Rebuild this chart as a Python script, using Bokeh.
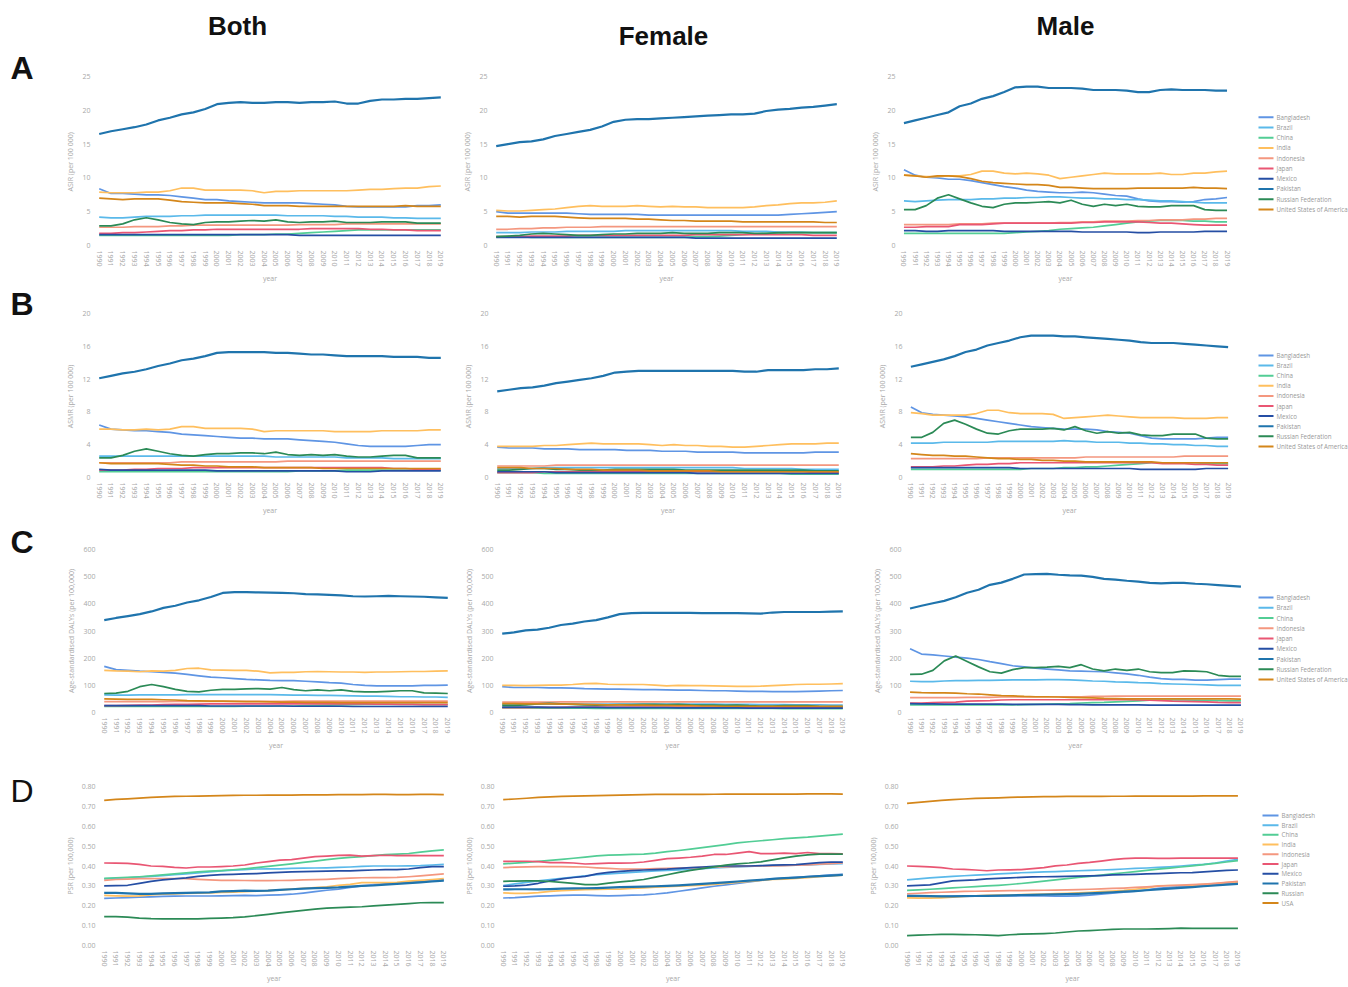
from bokeh.plotting import figure
from bokeh.layouts import column, row
from bokeh.models import Range1d, FixedTicker, NumeralTickFormatter, Label, Div
from bokeh.core.properties import value
from bokeh.embed import file_html
from bokeh.resources import INLINE

YEARS = list(range(1990, 2020))
COUNTRIES = ["Bangladesh", "Brazil", "China", "India", "Indonesia", "Japan",
             "Mexico", "Pakistan", "Russian Federation", "United States of America"]
COLORS = {"Bangladesh": "#5f95e4", "Brazil": "#5ab9ea", "China": "#52cd95", "India": "#ffbf5e",
          "Indonesia": "#f4977f", "Japan": "#e95673", "Mexico": "#254ea4", "Pakistan": "#1f74ad",
          "Russian Federation": "#2b8a56", "United States of America": "#d4861a"}
LEGEND_ABC = ["Bangladesh", "Brazil", "China", "India", "Indonesia", "Japan", "Mexico",
              "Pakistan", "Russian Federation", "United States of America"]
LEGEND_C = ["Bangladesh", "Brazil", "China", "Indonesia", "Japan", "Mexico",
            "Pakistan", "Russian Federation", "United States of America"]
LEGEND_D = ["Bangladesh", "Brazil", "China", "India", "Indonesia", "Japan", "Mexico",
            "Pakistan", "Russian", "USA"]

# ---------------- A: ASIR ----------------
A_BOTH = {
    "Bangladesh": [8.4,7.7,7.7,7.6,7.5,7.5,7.4,7.2,7.0,6.8,6.8,6.6,6.5,6.4,6.3,6.3,6.3,6.3,6.2,6.1,6.0,5.8,5.7,5.7,5.7,5.7,5.7,5.9,5.9,6.0],
    "Brazil": [4.2,4.1,4.1,4.2,4.3,4.3,4.3,4.4,4.4,4.5,4.5,4.5,4.5,4.5,4.5,4.5,4.4,4.4,4.4,4.4,4.3,4.3,4.2,4.2,4.2,4.1,4.1,4.0,4.0,4.0],
    "China": [1.5,1.5,1.5,1.5,1.5,1.5,1.5,1.5,1.5,1.5,1.5,1.5,1.6,1.6,1.6,1.7,1.7,1.8,1.9,2.0,2.1,2.2,2.3,2.3,2.3,2.3,2.3,2.3,2.3,2.3],
    "India": [7.9,7.8,7.8,7.8,7.9,7.9,8.1,8.5,8.5,8.2,8.2,8.2,8.2,8.1,7.8,8.0,8.0,8.1,8.1,8.1,8.1,8.1,8.2,8.3,8.3,8.4,8.5,8.5,8.7,8.8],
    "Indonesia": [2.7,2.7,2.7,2.8,2.8,2.8,2.9,2.9,3.0,3.0,3.0,3.0,3.0,3.0,3.0,3.0,3.0,3.1,3.1,3.1,3.1,3.2,3.2,3.2,3.2,3.2,3.2,3.2,3.2,3.2],
    "Japan": [1.8,1.8,1.9,1.9,2.0,2.1,2.2,2.2,2.3,2.3,2.4,2.4,2.4,2.4,2.4,2.4,2.4,2.4,2.5,2.5,2.5,2.5,2.5,2.4,2.4,2.3,2.3,2.2,2.2,2.2],
    "Mexico": [1.6,1.6,1.6,1.6,1.6,1.6,1.6,1.6,1.6,1.6,1.6,1.6,1.6,1.6,1.6,1.6,1.6,1.5,1.5,1.5,1.5,1.5,1.5,1.5,1.5,1.5,1.5,1.5,1.5,1.5],
    "Pakistan": [16.5,16.9,17.2,17.5,17.9,18.5,18.9,19.4,19.7,20.2,20.9,21.1,21.2,21.1,21.1,21.2,21.2,21.1,21.2,21.2,21.3,21.0,21.0,21.4,21.6,21.6,21.7,21.7,21.8,21.9],
    "Russian Federation": [2.9,2.9,3.2,3.8,4.1,3.8,3.4,3.2,3.1,3.4,3.5,3.5,3.6,3.7,3.6,3.8,3.5,3.4,3.5,3.5,3.6,3.4,3.4,3.4,3.5,3.5,3.5,3.3,3.3,3.3],
    "United States of America": [7.0,6.9,6.8,6.9,6.9,6.9,6.7,6.5,6.4,6.3,6.3,6.3,6.2,6.1,5.9,5.9,5.9,5.8,5.8,5.8,5.8,5.8,5.8,5.8,5.8,5.8,5.9,5.8,5.8,5.8],
}
A_FEMALE = {
    "Bangladesh": [5.0,4.8,4.8,4.8,4.8,4.8,4.8,4.7,4.6,4.6,4.6,4.6,4.6,4.5,4.5,4.5,4.5,4.5,4.5,4.5,4.5,4.5,4.5,4.5,4.5,4.6,4.7,4.8,4.9,5.0],
    "Brazil": [1.9,1.9,1.9,2.0,2.0,2.0,2.1,2.1,2.1,2.1,2.1,2.2,2.2,2.2,2.2,2.2,2.2,2.2,2.2,2.2,2.2,2.1,2.1,2.1,2.0,2.0,2.0,1.9,1.9,1.9],
    "China": [1.3,1.3,1.3,1.2,1.2,1.2,1.2,1.2,1.2,1.2,1.2,1.2,1.2,1.2,1.2,1.2,1.2,1.3,1.3,1.4,1.5,1.6,1.7,1.8,1.8,1.9,1.9,1.9,1.9,1.9],
    "India": [5.2,5.1,5.1,5.2,5.3,5.4,5.6,5.8,5.9,5.8,5.8,5.8,5.9,5.8,5.7,5.8,5.7,5.7,5.6,5.6,5.6,5.6,5.7,5.9,6.0,6.2,6.3,6.3,6.4,6.6],
    "Indonesia": [2.4,2.4,2.5,2.5,2.6,2.6,2.7,2.7,2.7,2.8,2.8,2.8,2.8,2.8,2.8,2.8,2.8,2.8,2.8,2.8,2.8,2.8,2.8,2.8,2.8,2.8,2.8,2.8,2.8,2.8],
    "Japan": [1.3,1.3,1.3,1.4,1.4,1.4,1.4,1.5,1.5,1.5,1.5,1.5,1.5,1.5,1.5,1.5,1.5,1.6,1.6,1.6,1.6,1.6,1.6,1.6,1.6,1.6,1.6,1.5,1.5,1.5],
    "Mexico": [1.2,1.2,1.2,1.2,1.2,1.2,1.2,1.2,1.2,1.2,1.2,1.2,1.2,1.2,1.2,1.2,1.2,1.1,1.1,1.1,1.1,1.1,1.1,1.1,1.1,1.1,1.1,1.1,1.1,1.1],
    "Pakistan": [14.7,15.0,15.3,15.4,15.7,16.2,16.5,16.8,17.1,17.6,18.3,18.6,18.7,18.7,18.8,18.9,19.0,19.1,19.2,19.3,19.4,19.4,19.5,19.9,20.1,20.2,20.4,20.5,20.7,20.9],
    "Russian Federation": [1.3,1.4,1.5,1.7,1.8,1.7,1.6,1.5,1.5,1.6,1.7,1.7,1.8,1.8,1.8,1.9,1.8,1.8,1.8,1.9,1.9,1.9,1.8,1.8,1.9,1.9,1.9,1.9,1.9,1.9],
    "United States of America": [4.3,4.3,4.2,4.3,4.3,4.3,4.2,4.1,4.0,4.0,4.0,4.0,3.9,3.9,3.8,3.7,3.7,3.6,3.6,3.6,3.6,3.5,3.5,3.5,3.5,3.5,3.5,3.5,3.4,3.4],
}
A_MALE = {
    "Bangladesh": [11.2,10.4,10.1,10.0,9.8,9.8,9.6,9.3,9.0,8.7,8.5,8.2,8.0,7.9,7.8,7.8,7.9,7.8,7.6,7.4,7.3,6.9,6.6,6.5,6.5,6.4,6.5,6.8,6.9,7.1],
    "Brazil": [6.6,6.5,6.6,6.7,6.8,6.8,6.8,6.9,6.9,7.0,7.0,7.1,7.1,7.2,7.2,7.1,7.0,7.0,6.9,6.9,6.8,6.8,6.7,6.6,6.6,6.5,6.4,6.3,6.3,6.3],
    "China": [1.8,1.8,1.8,1.8,1.8,1.8,1.8,1.8,1.8,1.8,1.9,2.0,2.1,2.2,2.4,2.5,2.6,2.7,2.9,3.1,3.3,3.5,3.6,3.7,3.7,3.7,3.6,3.6,3.5,3.5],
    "India": [10.4,10.3,10.2,10.2,10.3,10.3,10.5,11.0,11.0,10.7,10.6,10.7,10.6,10.4,9.9,10.1,10.3,10.5,10.7,10.6,10.6,10.6,10.6,10.7,10.5,10.5,10.7,10.7,10.9,11.0],
    "Indonesia": [3.1,3.1,3.1,3.1,3.1,3.2,3.2,3.2,3.3,3.3,3.3,3.3,3.3,3.3,3.4,3.4,3.5,3.5,3.6,3.6,3.6,3.7,3.7,3.8,3.8,3.8,3.9,3.9,4.0,4.0],
    "Japan": [2.7,2.7,2.8,2.8,2.8,3.1,3.1,3.1,3.2,3.3,3.3,3.3,3.3,3.3,3.3,3.3,3.4,3.4,3.5,3.5,3.5,3.5,3.4,3.3,3.3,3.2,3.1,3.0,3.0,3.0],
    "Mexico": [2.2,2.2,2.1,2.1,2.2,2.2,2.2,2.2,2.2,2.1,2.1,2.1,2.1,2.1,2.1,2.1,2.0,2.0,2.0,2.0,2.0,1.9,1.9,2.0,2.0,2.0,2.0,2.1,2.1,2.1],
    "Pakistan": [18.1,18.5,18.9,19.3,19.7,20.6,21.0,21.7,22.1,22.7,23.4,23.5,23.5,23.3,23.3,23.3,23.2,23.0,23.0,23.0,22.9,22.7,22.7,23.0,23.1,23.0,23.0,23.0,22.9,22.9],
    "Russian Federation": [5.3,5.3,5.9,7.0,7.5,6.9,6.3,5.8,5.6,6.1,6.3,6.3,6.4,6.5,6.3,6.7,6.1,5.8,6.1,5.9,6.1,5.8,5.7,5.7,5.9,5.9,5.9,5.3,5.2,5.2],
    "United States of America": [10.4,10.3,10.1,10.3,10.3,10.2,9.9,9.5,9.3,9.2,9.1,9.0,9.0,8.9,8.6,8.6,8.5,8.4,8.4,8.4,8.4,8.5,8.5,8.5,8.5,8.5,8.6,8.5,8.5,8.4],
}

# ---------------- B: ASMR ----------------
B_BOTH = {
    "Bangladesh": [6.4,5.9,5.8,5.7,5.7,5.6,5.5,5.3,5.2,5.1,5.0,4.9,4.8,4.8,4.7,4.7,4.7,4.6,4.5,4.4,4.3,4.1,3.9,3.8,3.8,3.8,3.8,3.9,4.0,4.0],
    "Brazil": [2.6,2.6,2.6,2.6,2.6,2.6,2.6,2.6,2.6,2.6,2.6,2.6,2.6,2.6,2.6,2.5,2.5,2.5,2.5,2.5,2.5,2.4,2.4,2.4,2.4,2.3,2.3,2.3,2.3,2.3],
    "China": [0.7,0.7,0.7,0.7,0.7,0.7,0.7,0.7,0.7,0.7,0.7,0.7,0.7,0.7,0.7,0.7,0.7,0.8,0.8,0.8,0.8,0.9,0.9,0.9,0.9,0.9,0.9,0.9,0.9,0.9],
    "India": [5.9,5.9,5.8,5.8,5.9,5.8,5.9,6.2,6.2,6.0,6.0,6.0,6.0,5.9,5.6,5.7,5.7,5.7,5.7,5.7,5.6,5.6,5.6,5.6,5.7,5.7,5.7,5.7,5.8,5.8],
    "Indonesia": [1.8,1.8,1.8,1.8,1.8,1.8,1.8,1.9,1.9,1.9,1.9,1.9,1.9,1.9,1.9,1.9,2.0,2.0,2.0,2.0,2.0,2.0,2.0,2.0,2.0,2.0,2.0,2.0,2.0,2.0],
    "Japan": [0.9,0.9,0.9,1.0,1.0,1.1,1.1,1.1,1.2,1.2,1.2,1.2,1.2,1.2,1.2,1.2,1.2,1.2,1.2,1.2,1.2,1.2,1.2,1.2,1.2,1.1,1.1,1.0,1.0,1.0],
    "Mexico": [1.0,0.9,0.9,0.9,0.9,0.9,0.9,0.9,0.9,0.9,0.8,0.8,0.8,0.8,0.8,0.8,0.8,0.8,0.8,0.8,0.8,0.7,0.7,0.7,0.8,0.8,0.8,0.8,0.8,0.8],
    "Pakistan": [12.1,12.4,12.7,12.9,13.2,13.6,13.9,14.3,14.5,14.8,15.2,15.3,15.3,15.3,15.3,15.2,15.2,15.1,15.0,15.0,14.9,14.8,14.8,14.8,14.8,14.7,14.7,14.7,14.6,14.6],
    "Russian Federation": [2.4,2.4,2.7,3.2,3.5,3.2,2.9,2.7,2.6,2.8,2.9,2.9,3.0,3.0,2.9,3.1,2.8,2.7,2.8,2.7,2.8,2.6,2.5,2.5,2.6,2.7,2.7,2.4,2.4,2.4],
    "United States of America": [1.8,1.7,1.7,1.7,1.7,1.7,1.6,1.5,1.5,1.4,1.4,1.3,1.3,1.3,1.2,1.2,1.2,1.2,1.2,1.1,1.1,1.1,1.1,1.1,1.1,1.1,1.1,1.1,1.1,1.1],
}
B_FEMALE = {
    "Bangladesh": [3.7,3.6,3.6,3.6,3.5,3.5,3.5,3.4,3.4,3.4,3.4,3.3,3.3,3.3,3.2,3.2,3.2,3.1,3.1,3.1,3.1,3.0,3.0,3.0,3.0,3.0,3.0,3.1,3.1,3.1],
    "Brazil": [1.1,1.1,1.1,1.1,1.2,1.2,1.2,1.2,1.2,1.2,1.2,1.2,1.2,1.2,1.2,1.2,1.2,1.2,1.2,1.2,1.2,1.1,1.1,1.1,1.1,1.1,1.0,1.0,1.0,1.0],
    "China": [0.6,0.6,0.6,0.6,0.5,0.5,0.5,0.5,0.5,0.5,0.5,0.5,0.5,0.5,0.5,0.5,0.5,0.5,0.5,0.5,0.5,0.5,0.5,0.5,0.5,0.4,0.4,0.4,0.4,0.4],
    "India": [3.8,3.8,3.8,3.8,3.9,3.9,4.0,4.1,4.2,4.1,4.1,4.1,4.1,4.0,3.9,4.0,3.9,3.9,3.8,3.8,3.7,3.7,3.8,3.9,4.0,4.1,4.1,4.1,4.2,4.2],
    "Indonesia": [1.4,1.4,1.4,1.4,1.4,1.5,1.5,1.5,1.5,1.5,1.5,1.5,1.5,1.5,1.5,1.5,1.5,1.5,1.5,1.5,1.5,1.5,1.5,1.5,1.5,1.5,1.5,1.5,1.5,1.5],
    "Japan": [0.6,0.6,0.6,0.6,0.7,0.7,0.7,0.7,0.7,0.7,0.7,0.7,0.7,0.7,0.7,0.7,0.7,0.7,0.7,0.7,0.7,0.7,0.7,0.7,0.7,0.7,0.7,0.6,0.6,0.6],
    "Mexico": [0.7,0.7,0.7,0.7,0.7,0.6,0.6,0.6,0.6,0.6,0.6,0.6,0.6,0.6,0.6,0.6,0.6,0.5,0.5,0.5,0.5,0.5,0.5,0.5,0.5,0.5,0.5,0.5,0.5,0.5],
    "Pakistan": [10.5,10.7,10.9,11.0,11.2,11.5,11.7,11.9,12.1,12.4,12.8,12.9,13.0,13.0,13.0,13.0,13.0,13.0,13.0,13.0,13.0,12.9,12.9,13.1,13.1,13.1,13.1,13.2,13.2,13.3],
    "Russian Federation": [0.9,0.9,1.0,1.1,1.1,1.0,1.0,0.9,0.9,0.9,1.0,1.0,1.0,1.0,1.0,1.0,0.9,0.9,0.9,0.9,0.9,0.9,0.9,0.9,0.9,0.9,0.9,0.8,0.8,0.8],
    "United States of America": [1.2,1.2,1.2,1.1,1.1,1.1,1.0,1.0,1.0,0.9,0.9,0.9,0.9,0.8,0.8,0.8,0.8,0.8,0.8,0.7,0.7,0.7,0.7,0.7,0.7,0.7,0.7,0.7,0.7,0.7],
}
B_MALE = {
    "Bangladesh": [8.6,7.9,7.7,7.6,7.5,7.4,7.2,7.0,6.8,6.6,6.4,6.2,6.1,6.0,5.9,5.9,5.9,5.8,5.6,5.5,5.4,5.1,4.8,4.7,4.7,4.7,4.7,4.8,4.9,4.9],
    "Brazil": [4.2,4.2,4.2,4.3,4.3,4.3,4.3,4.3,4.4,4.4,4.4,4.4,4.4,4.4,4.5,4.4,4.4,4.3,4.3,4.3,4.2,4.2,4.1,4.1,4.0,4.0,3.9,3.9,3.8,3.8],
    "China": [1.0,1.0,1.0,1.0,1.0,1.0,1.0,1.0,1.0,1.0,1.0,1.1,1.1,1.1,1.2,1.2,1.3,1.3,1.4,1.5,1.6,1.7,1.8,1.8,1.8,1.8,1.8,1.7,1.7,1.7],
    "India": [7.9,7.8,7.6,7.6,7.6,7.6,7.8,8.2,8.2,7.9,7.8,7.8,7.8,7.7,7.2,7.3,7.4,7.5,7.6,7.5,7.4,7.3,7.3,7.3,7.3,7.2,7.2,7.2,7.3,7.3],
    "Indonesia": [2.3,2.3,2.3,2.3,2.3,2.3,2.3,2.4,2.4,2.4,2.4,2.4,2.4,2.4,2.4,2.4,2.5,2.5,2.5,2.5,2.5,2.5,2.5,2.5,2.5,2.6,2.6,2.6,2.6,2.6],
    "Japan": [1.3,1.3,1.3,1.4,1.4,1.5,1.6,1.6,1.7,1.7,1.8,1.8,1.8,1.8,1.8,1.8,1.8,1.8,1.8,1.8,1.8,1.8,1.8,1.7,1.7,1.7,1.6,1.6,1.5,1.5],
    "Mexico": [1.2,1.2,1.2,1.2,1.2,1.2,1.2,1.2,1.2,1.2,1.1,1.1,1.1,1.1,1.1,1.1,1.1,1.1,1.1,1.1,1.1,1.0,1.0,1.0,1.0,1.0,1.0,1.1,1.1,1.1],
    "Pakistan": [13.5,13.8,14.1,14.4,14.8,15.3,15.6,16.1,16.4,16.7,17.1,17.3,17.3,17.3,17.2,17.2,17.1,17.0,16.9,16.8,16.7,16.5,16.4,16.4,16.4,16.3,16.2,16.1,16.0,15.9],
    "Russian Federation": [4.9,4.9,5.5,6.6,7.0,6.5,5.9,5.4,5.3,5.7,5.9,5.9,5.9,6.0,5.8,6.2,5.7,5.4,5.6,5.4,5.5,5.2,5.1,5.1,5.3,5.3,5.3,4.8,4.7,4.7],
    "United States of America": [2.9,2.8,2.7,2.7,2.6,2.6,2.5,2.4,2.3,2.3,2.2,2.2,2.1,2.1,2.0,2.0,1.9,1.9,1.9,1.9,1.9,1.9,1.9,1.8,1.8,1.8,1.8,1.8,1.8,1.8],
}

# ---------------- C: DALYs ----------------
C_BOTH = {
    "Bangladesh": [170,158,155,152,150,148,145,140,135,130,128,125,122,120,118,117,117,115,113,110,108,103,100,98,98,98,98,100,100,101],
    "Brazil": [65,64,64,65,65,65,65,66,66,66,66,66,66,66,66,65,64,64,63,63,62,61,60,60,59,58,58,57,57,56],
    "China": [22,22,22,22,22,22,22,22,22,22,22,22,23,23,23,24,24,25,26,27,28,29,30,30,30,30,30,29,29,29],
    "India": [155,153,152,150,153,152,155,162,163,157,156,155,155,152,146,148,148,150,151,150,149,149,148,149,149,150,151,151,152,153],
    "Indonesia": [40,40,40,40,40,40,41,41,41,41,41,41,41,41,41,41,42,42,42,42,42,42,42,42,42,42,42,42,42,42],
    "Japan": [25,25,26,27,27,29,30,30,31,32,32,32,32,32,32,32,32,32,32,32,32,32,32,31,31,30,30,29,29,29],
    "Mexico": [25,25,25,25,25,25,25,25,25,24,24,24,24,24,24,24,23,23,23,23,23,22,22,22,22,22,22,22,22,22],
    "Pakistan": [340,348,355,362,372,385,393,405,413,425,440,443,443,442,441,440,439,436,435,433,431,428,427,428,429,428,427,426,424,422],
    "Russian Federation": [70,71,78,95,103,95,85,78,76,82,85,85,87,88,86,92,84,80,83,80,83,78,76,76,78,80,80,72,71,70],
    "United States of America": [50,49,48,48,48,47,46,44,43,42,42,41,40,40,39,38,38,37,37,37,36,36,36,36,36,36,36,36,36,36],
}
C_FEMALE = {
    "Bangladesh": [95,92,92,92,91,91,90,88,87,86,86,85,84,84,83,82,82,81,80,80,79,78,78,77,77,77,78,79,80,81],
    "Brazil": [30,30,30,31,31,31,31,31,31,31,31,31,31,31,31,31,31,31,31,30,30,30,29,29,29,28,28,28,27,27],
    "China": [17,17,17,16,16,16,16,16,15,15,15,15,15,15,15,15,15,15,15,15,15,15,15,15,14,14,14,14,14,14],
    "India": [100,100,99,100,101,101,103,106,107,104,103,103,103,101,98,100,99,99,98,97,96,96,97,99,101,103,104,104,105,106],
    "Indonesia": [38,38,38,38,38,39,39,39,39,39,39,39,39,39,39,39,39,39,39,39,39,39,39,39,39,39,39,39,39,39],
    "Japan": [18,18,18,19,19,19,20,20,20,20,20,20,20,20,20,20,20,20,20,20,20,20,20,20,19,19,19,18,18,18],
    "Mexico": [20,20,20,20,19,19,19,19,19,18,18,18,18,18,18,17,17,17,17,17,17,16,16,16,16,16,16,16,16,16],
    "Pakistan": [290,295,302,305,312,322,327,335,340,350,362,366,367,367,367,367,367,366,366,366,366,365,364,368,370,370,370,370,371,372],
    "Russian Federation": [26,26,28,32,34,32,30,28,27,28,29,29,30,30,29,30,28,27,27,26,27,25,24,24,25,25,25,23,22,22],
    "United States of America": [33,33,32,32,32,31,31,30,29,28,28,27,27,26,26,25,25,24,24,23,23,23,23,23,23,23,23,23,23,23],
}
C_MALE = {
    "Bangladesh": [235,215,212,208,204,200,195,187,180,172,168,163,160,157,153,152,151,150,146,142,137,130,125,122,122,119,119,121,123,123],
    "Brazil": [115,114,114,116,117,117,118,118,119,120,120,120,121,121,120,118,116,115,113,112,110,109,106,105,104,103,102,100,100,100],
    "China": [28,28,28,28,28,28,28,28,28,28,29,30,31,32,33,35,36,37,39,41,43,45,46,46,46,45,45,44,43,43],
    "Indonesia": [55,55,55,55,55,56,56,56,57,57,57,57,57,58,58,58,59,59,60,60,60,60,60,60,60,60,60,60,60,60],
    "Japan": [35,35,36,37,38,42,43,44,46,47,47,47,47,47,47,47,47,47,47,47,46,45,44,42,41,40,39,37,36,36],
    "Mexico": [33,32,32,31,31,31,31,31,31,30,30,30,30,30,29,29,28,28,28,28,28,27,27,27,27,27,27,27,27,27],
    "Pakistan": [383,393,402,411,424,441,452,470,478,492,508,509,510,507,505,504,499,492,489,485,482,477,475,477,477,474,472,469,466,463],
    "Russian Federation": [140,141,155,190,208,188,168,150,145,158,165,165,167,170,165,176,160,153,160,155,160,150,147,147,153,152,150,137,133,133],
    "United States of America": [75,73,72,72,71,69,68,65,62,61,59,58,58,57,56,55,54,52,51,50,50,50,50,50,50,50,50,50,50,49],
}

# ---------------- D: PSR ----------------
D_BOTH = {
    "Bangladesh": [0.237,0.239,0.241,0.243,0.245,0.247,0.248,0.249,0.249,0.249,0.250,0.251,0.252,0.251,0.253,0.255,0.258,0.264,0.271,0.278,0.283,0.292,0.300,0.306,0.310,0.314,0.318,0.322,0.326,0.330],
    "Brazil": [0.335,0.338,0.341,0.344,0.348,0.352,0.356,0.360,0.365,0.370,0.375,0.379,0.382,0.385,0.386,0.386,0.388,0.389,0.390,0.391,0.393,0.395,0.398,0.400,0.400,0.400,0.401,0.402,0.405,0.408],
    "China": [0.338,0.341,0.343,0.346,0.350,0.355,0.360,0.365,0.370,0.374,0.377,0.381,0.386,0.392,0.398,0.404,0.411,0.418,0.425,0.432,0.438,0.443,0.447,0.452,0.457,0.460,0.463,0.470,0.476,0.481],
    "India": [0.252,0.250,0.248,0.250,0.254,0.258,0.260,0.262,0.263,0.265,0.267,0.268,0.271,0.273,0.276,0.280,0.284,0.288,0.291,0.295,0.303,0.308,0.316,0.316,0.316,0.318,0.324,0.328,0.332,0.336],
    "Indonesia": [0.328,0.332,0.334,0.336,0.336,0.337,0.337,0.336,0.333,0.330,0.328,0.328,0.327,0.326,0.326,0.327,0.328,0.330,0.331,0.333,0.336,0.339,0.341,0.342,0.342,0.343,0.346,0.350,0.355,0.360],
    "Japan": [0.415,0.414,0.413,0.408,0.400,0.398,0.393,0.390,0.395,0.395,0.397,0.400,0.405,0.415,0.422,0.430,0.432,0.440,0.447,0.450,0.453,0.455,0.450,0.452,0.454,0.452,0.453,0.452,0.452,0.452],
    "Mexico": [0.300,0.301,0.303,0.313,0.323,0.330,0.335,0.340,0.348,0.353,0.357,0.358,0.360,0.362,0.365,0.368,0.370,0.372,0.373,0.374,0.375,0.375,0.378,0.380,0.382,0.382,0.385,0.392,0.397,0.397],
    "Pakistan": [0.265,0.265,0.262,0.260,0.260,0.262,0.264,0.265,0.266,0.267,0.272,0.274,0.276,0.275,0.276,0.280,0.283,0.286,0.289,0.290,0.292,0.296,0.300,0.302,0.306,0.310,0.314,0.318,0.322,0.326],
    "Russian Federation": [0.145,0.145,0.143,0.138,0.135,0.134,0.134,0.134,0.134,0.136,0.138,0.140,0.144,0.150,0.157,0.164,0.170,0.177,0.183,0.188,0.191,0.193,0.195,0.199,0.203,0.207,0.211,0.215,0.216,0.216],
    "United States of America": [0.730,0.735,0.738,0.742,0.745,0.748,0.750,0.751,0.752,0.753,0.754,0.755,0.756,0.756,0.757,0.757,0.757,0.758,0.758,0.758,0.759,0.759,0.759,0.760,0.760,0.759,0.759,0.760,0.760,0.759],
}
D_FEMALE = {
    "Bangladesh": [0.239,0.241,0.245,0.248,0.250,0.252,0.253,0.253,0.251,0.250,0.251,0.253,0.255,0.259,0.265,0.273,0.281,0.290,0.298,0.305,0.312,0.320,0.328,0.335,0.339,0.343,0.347,0.351,0.355,0.358],
    "Brazil": [0.302,0.310,0.318,0.325,0.332,0.338,0.344,0.350,0.356,0.360,0.364,0.368,0.372,0.375,0.378,0.381,0.384,0.387,0.390,0.393,0.396,0.398,0.400,0.402,0.403,0.404,0.405,0.408,0.410,0.412],
    "China": [0.411,0.414,0.418,0.423,0.428,0.433,0.439,0.445,0.451,0.455,0.456,0.458,0.460,0.465,0.472,0.478,0.485,0.492,0.500,0.508,0.516,0.522,0.527,0.532,0.538,0.542,0.545,0.550,0.555,0.560],
    "India": [0.265,0.262,0.262,0.266,0.272,0.276,0.279,0.281,0.282,0.283,0.284,0.287,0.290,0.293,0.296,0.298,0.301,0.304,0.308,0.312,0.318,0.322,0.327,0.332,0.334,0.338,0.342,0.346,0.350,0.354],
    "Indonesia": [0.392,0.394,0.396,0.397,0.397,0.397,0.396,0.395,0.391,0.388,0.385,0.384,0.385,0.387,0.388,0.390,0.391,0.393,0.395,0.396,0.398,0.399,0.400,0.401,0.402,0.404,0.406,0.409,0.412,0.415],
    "Japan": [0.423,0.424,0.424,0.422,0.417,0.417,0.415,0.410,0.412,0.414,0.414,0.415,0.420,0.428,0.437,0.440,0.444,0.450,0.458,0.458,0.465,0.472,0.462,0.462,0.465,0.462,0.468,0.462,0.462,0.461],
    "Mexico": [0.298,0.300,0.304,0.313,0.325,0.335,0.342,0.348,0.360,0.368,0.373,0.377,0.380,0.382,0.384,0.388,0.392,0.395,0.398,0.400,0.400,0.400,0.402,0.404,0.406,0.407,0.412,0.417,0.420,0.420],
    "Pakistan": [0.282,0.283,0.283,0.282,0.284,0.286,0.287,0.288,0.289,0.291,0.294,0.295,0.296,0.298,0.300,0.303,0.306,0.310,0.314,0.318,0.322,0.326,0.330,0.335,0.339,0.342,0.346,0.349,0.352,0.355],
    "Russian Federation": [0.323,0.324,0.325,0.325,0.322,0.318,0.313,0.306,0.306,0.314,0.320,0.325,0.332,0.344,0.356,0.368,0.378,0.387,0.396,0.404,0.411,0.415,0.421,0.431,0.441,0.450,0.456,0.460,0.460,0.460],
    "United States of America": [0.734,0.737,0.741,0.745,0.748,0.750,0.752,0.753,0.754,0.755,0.757,0.758,0.759,0.760,0.760,0.760,0.760,0.760,0.761,0.762,0.762,0.762,0.762,0.762,0.762,0.762,0.763,0.763,0.763,0.762],
}
D_MALE = {
    "Bangladesh": [0.245,0.246,0.247,0.247,0.248,0.248,0.249,0.249,0.249,0.249,0.249,0.249,0.249,0.248,0.248,0.250,0.253,0.258,0.263,0.268,0.273,0.280,0.287,0.292,0.296,0.299,0.302,0.306,0.310,0.314],
    "Brazil": [0.330,0.335,0.340,0.344,0.348,0.351,0.354,0.357,0.360,0.363,0.366,0.368,0.370,0.372,0.374,0.376,0.378,0.380,0.382,0.385,0.388,0.390,0.393,0.396,0.400,0.404,0.408,0.415,0.425,0.433],
    "China": [0.277,0.280,0.283,0.286,0.290,0.293,0.296,0.300,0.303,0.307,0.312,0.318,0.324,0.330,0.336,0.342,0.348,0.354,0.360,0.366,0.372,0.378,0.384,0.389,0.395,0.401,0.407,0.413,0.420,0.427],
    "India": [0.240,0.238,0.238,0.240,0.243,0.247,0.250,0.252,0.253,0.254,0.256,0.257,0.259,0.261,0.263,0.265,0.268,0.271,0.274,0.277,0.283,0.290,0.300,0.302,0.302,0.304,0.308,0.312,0.316,0.320],
    "Indonesia": [0.260,0.263,0.266,0.268,0.270,0.272,0.273,0.274,0.275,0.276,0.276,0.277,0.278,0.279,0.280,0.281,0.283,0.285,0.287,0.289,0.292,0.295,0.299,0.302,0.304,0.306,0.309,0.313,0.318,0.323],
    "Japan": [0.400,0.398,0.396,0.392,0.385,0.383,0.380,0.376,0.380,0.381,0.382,0.387,0.392,0.401,0.405,0.413,0.418,0.425,0.432,0.437,0.440,0.440,0.438,0.438,0.440,0.440,0.440,0.440,0.440,0.440],
    "Mexico": [0.300,0.303,0.305,0.315,0.325,0.328,0.330,0.335,0.338,0.340,0.343,0.345,0.346,0.347,0.348,0.349,0.350,0.352,0.355,0.357,0.358,0.360,0.362,0.364,0.366,0.367,0.370,0.374,0.378,0.380],
    "Pakistan": [0.250,0.250,0.248,0.247,0.247,0.248,0.249,0.250,0.251,0.252,0.254,0.255,0.256,0.257,0.258,0.260,0.262,0.265,0.268,0.271,0.274,0.278,0.282,0.286,0.290,0.294,0.298,0.302,0.306,0.310],
    "Russian Federation": [0.050,0.052,0.054,0.056,0.056,0.055,0.054,0.052,0.050,0.054,0.057,0.058,0.060,0.063,0.068,0.073,0.075,0.078,0.081,0.083,0.083,0.083,0.084,0.085,0.087,0.086,0.086,0.086,0.086,0.086],
    "United States of America": [0.715,0.720,0.725,0.730,0.734,0.737,0.740,0.742,0.743,0.745,0.747,0.748,0.749,0.749,0.750,0.750,0.750,0.750,0.751,0.751,0.752,0.752,0.752,0.752,0.752,0.752,0.753,0.753,0.753,0.753],
}

A_TICKS = [0, 5, 10, 15, 20, 25]
B_TICKS = [0, 4, 8, 12, 16, 20]
C_TICKS = [0, 100, 200, 300, 400, 500, 600]
D_TICKS = [0.0, 0.1, 0.2, 0.3, 0.4, 0.5, 0.6, 0.7, 0.8]

for name, d in [("A_BOTH", A_BOTH), ("A_FEMALE", A_FEMALE), ("A_MALE", A_MALE), ("B_BOTH", B_BOTH),
                ("B_FEMALE", B_FEMALE), ("B_MALE", B_MALE), ("C_BOTH", C_BOTH), ("C_FEMALE", C_FEMALE),
                ("C_MALE", C_MALE), ("D_BOTH", D_BOTH), ("D_FEMALE", D_FEMALE), ("D_MALE", D_MALE)]:
    for k, v in d.items():
        if len(v) != 30:
            raise ValueError(f"{name} {k} has {len(v)} values")

GREY = "#a8a8a8"
FONT = "Open Sans"
LEG_W = 98


def blank_fig(w, h, top_b=0, bot_b=0):
    # y data coordinates == pixels from the band's top edge (frame aligned with the row's panels)
    p = figure(width=w, height=h, output_backend="svg", toolbar_location=None, title=None,
               x_range=Range1d(0, w), y_range=Range1d(h - bot_b, top_b), x_axis_type=None,
               y_axis_type=None, min_border_left=0, min_border_right=0,
               min_border_top=top_b, min_border_bottom=bot_b)
    p.outline_line_color = None
    p.grid.grid_line_color = None
    return p


def panel(series, band_left, band_w, band_h, x0px, x1px, top_b, bot_b, ticks, ylabel, fmt):
    s = (x1px - x0px) / 29.0
    fl = x0px - 0.4 * s
    fr = x1px + 0.4 * s
    p = figure(width=band_w, height=band_h, output_backend="svg", toolbar_location=None, title=None,
               x_range=Range1d(1989.6, 2019.4), y_range=Range1d(ticks[0], ticks[-1]),
               min_border_left=int(round(fl - band_left)),
               min_border_right=int(round(band_left + band_w - fr)),
               min_border_top=top_b, min_border_bottom=bot_b)
    p.outline_line_color = None
    p.grid.grid_line_color = None
    p.axis.axis_line_color = None
    p.axis.major_tick_line_color = None
    p.axis.minor_tick_line_color = None
    p.axis.major_tick_out = 0
    p.axis.major_tick_in = 0
    p.axis.minor_tick_out = 0
    p.axis.minor_tick_in = 0
    p.axis.major_label_text_font = FONT
    p.axis.major_label_text_font_size = "7px"
    p.axis.major_label_text_color = GREY
    p.axis.axis_label_text_font = FONT
    p.axis.axis_label_text_font_size = "7px"
    p.axis.axis_label_text_color = GREY
    p.axis.axis_label_text_font_style = "normal"
    p.xaxis.major_label_standoff = 5
    p.xaxis.axis_label_standoff = 4
    p.yaxis.major_label_standoff = 4
    p.yaxis.axis_label_standoff = 4
    p.xaxis.ticker = FixedTicker(ticks=YEARS)
    p.xaxis.major_label_orientation = "vertical"
    p.xaxis.axis_label = "year"
    p.yaxis.ticker = FixedTicker(ticks=ticks)
    p.yaxis.formatter = NumeralTickFormatter(format=fmt)
    p.yaxis.axis_label = ylabel
    for c in COUNTRIES:
        if c in series:
            lw = 2.2 if c == "Pakistan" else 1.7
            p.line(YEARS, series[c], line_color=COLORS[c], line_width=lw, line_join="round")
    return p


def letter_div(band_h, letter, y_center, bold=True):
    # 32px text with a 32px line box: the capital's middle sits ~16px below the box top
    top = max(0, y_center - 16)
    weight = "bold" if bold else "normal"
    html = (f'<div style="width:44px;text-align:center;margin-top:{top}px;'
            f'font-family:\'Liberation Sans\',Arial,sans-serif;font-size:32px;line-height:32px;'
            f'font-weight:{weight};color:#111111;">{letter}</div>')
    return Div(text=html, width=58, height=band_h, margin=0)


def legend_fig(band_h, top_b, bot_b, labels, y0, dy, xa, xb, xt):
    p = blank_fig(LEG_W, band_h, top_b, bot_b)
    ys = [y0 + i * dy for i in range(len(labels))]
    cols = []
    for lab in labels:
        key = {"Russian": "Russian Federation", "USA": "United States of America"}.get(lab, lab)
        cols.append(COLORS[key])
    p.segment(x0=[xa] * len(ys), y0=ys, x1=[xb] * len(ys), y1=ys, line_color=cols, line_width=2)
    p.text(x=[xt] * len(ys), y=ys, text=labels, text_font=value(FONT), text_font_size="6.2px",
           text_color="#999999", text_baseline="middle", text_align="left")
    return p


def make_row(top, h, ftop, fbot, letter, letter_y, bold, panels, leg):
    tb = ftop - top
    bb = top + h - fbot
    kids = [letter_div(h, letter, letter_y, bold)]
    for (series, bl, bw, x0, x1, ticks, ylabel, fmt) in panels:
        kids.append(panel(series, bl, bw, h, x0, x1, tb, bb, ticks, ylabel, fmt))
    labels, y0, dy, xa, xb, xt = leg
    kids.append(legend_fig(h, tb, bb, labels, y0, dy, xa, xb, xt))
    return row(*kids)


# header (page coordinates, origin at the page's top-left)
header = blank_fig(1250 + LEG_W, 52)
for tx, ty, tt in [(237, 25, "Both"), (663, 35, "Female"), (1065, 25, "Male")]:
    header.add_layout(Label(x=tx, y=ty, text=tt, text_font="Liberation Sans", text_font_size="26px",
                            text_font_style="bold", text_color="#111111", text_align="center",
                            text_baseline="middle"))

YA = "ASIR  (per 100 000)"
YB = "ASMR  (per 100 000)"
YC = "Age-standardised DALYs (per 100,000)"
YD = "PSR (per 100,000)"

rowA = make_row(52, 233, 76, 246, "A", 16, True, [
    (A_BOTH, 58, 402, 99, 440, A_TICKS, YA, "0"),
    (A_FEMALE, 460, 398, 496, 836, A_TICKS, YA, "0"),
    (A_MALE, 858, 392, 903, 1227, A_TICKS, YA, "0"),
], (LEGEND_ABC, 65, 10.3, 8, 23, 26))

rowB = make_row(285, 237, 313, 477, "B", 19, True, [
    (B_BOTH, 58, 402, 99, 440, B_TICKS, YB, "0"),
    (B_FEMALE, 460, 398, 497, 838, B_TICKS, YB, "0"),
    (B_MALE, 858, 392, 910, 1228, B_TICKS, YB, "0"),
], (LEGEND_ABC, 70, 10.1, 8, 23, 26))

rowC = make_row(522, 238, 549, 712, "C", 20, True, [
    (C_BOTH, 58, 402, 104, 447, C_TICKS, YC, "0"),
    (C_FEMALE, 460, 398, 502, 842, C_TICKS, YC, "0"),
    (C_MALE, 858, 392, 910, 1240, C_TICKS, YC, "0"),
], (LEGEND_C, 75, 10.25, 8, 23, 26))

rowD = make_row(760, 225, 786, 951, "D", 31, False, [
    (D_BOTH, 58, 402, 104, 443, D_TICKS, YD, "0.00"),
    (D_FEMALE, 460, 398, 503, 842, D_TICKS, YD, "0.00"),
    (D_MALE, 858, 392, 907, 1237, D_TICKS, YD, "0.00"),
], (LEGEND_D, 56, 10.1, 12, 28, 31))

layout = column(header, rowA, rowB, rowC, rowD)
open("out.html", "w").write(file_html(layout, INLINE))
